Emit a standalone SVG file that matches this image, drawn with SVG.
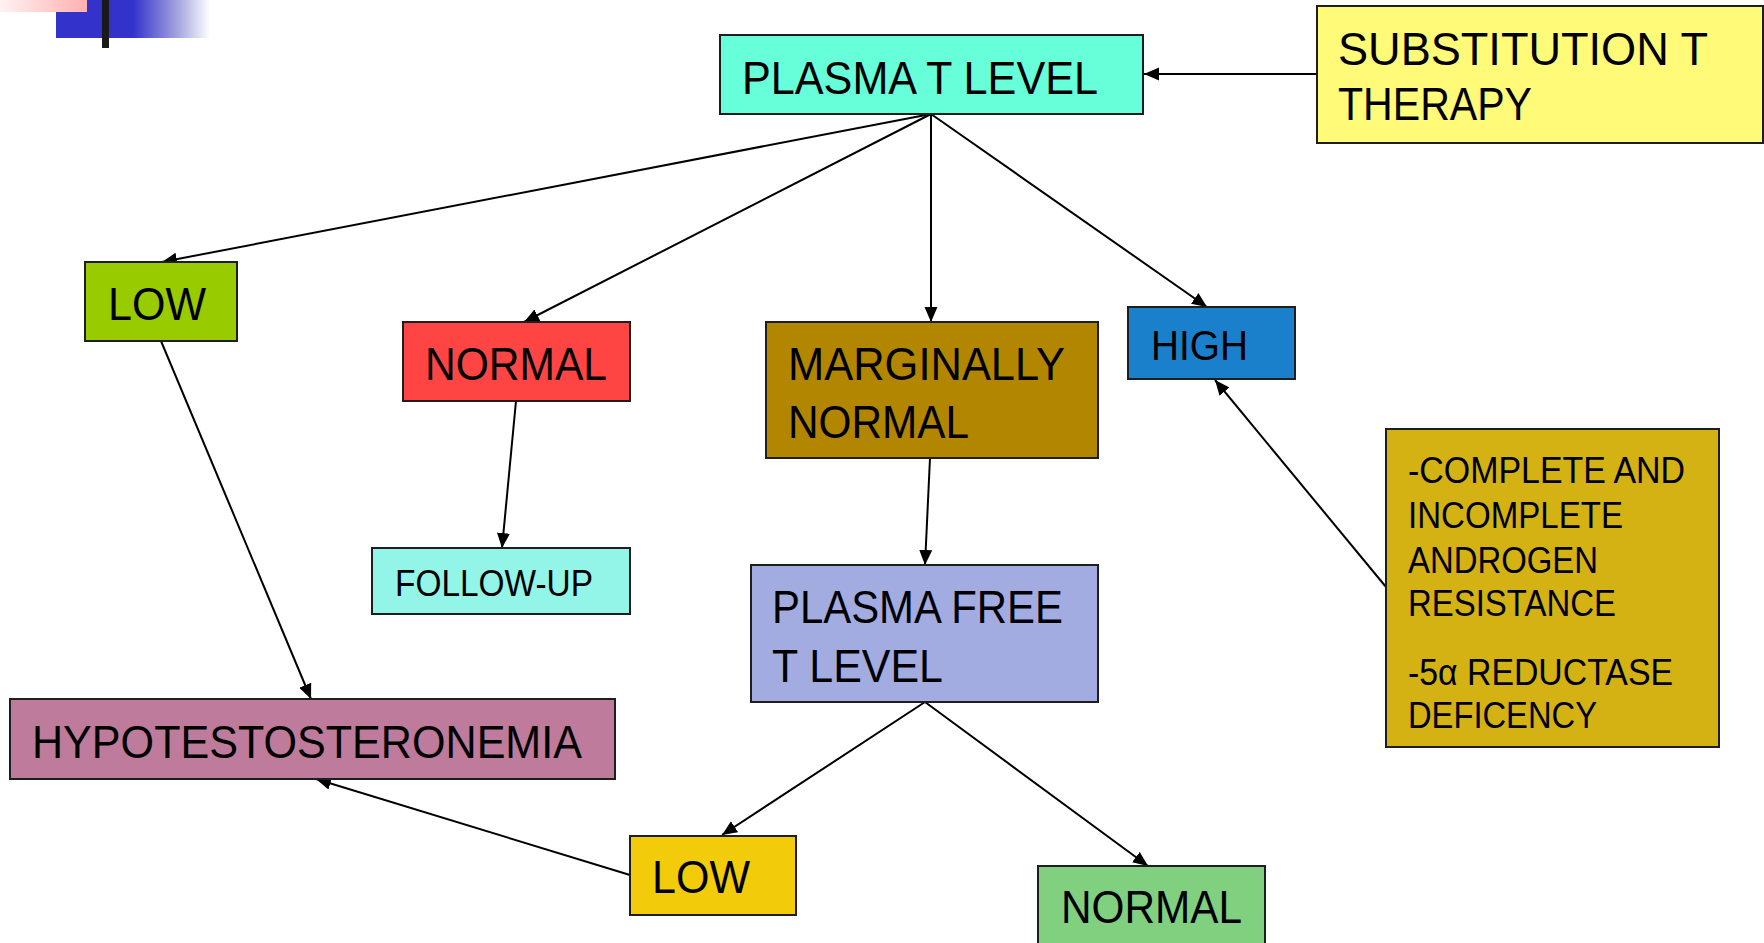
<svg xmlns="http://www.w3.org/2000/svg" width="1764" height="943" viewBox="0 0 1764 943">
  <style>
    .box { stroke: #1e1e1e; stroke-width: 2; }
    .lbl { font-family: "Liberation Sans", Arial, sans-serif; font-size: 47px; fill: #000; }
    .sm { font-size: 37px; }
    .hi { font-size: 42px; }
    .edge { stroke: #000; stroke-width: 2; fill: none; marker-end: url(#arrow); }
  </style>
  <defs>
    <marker id="arrow" markerUnits="userSpaceOnUse" markerWidth="16" markerHeight="14" refX="15" refY="6.5" orient="auto">
      <path d="M0,0 L15,6.5 L0,13 z" fill="#000"/>
    </marker>
    <linearGradient id="pinkBand" x1="0" y1="0" x2="1" y2="0">
      <stop offset="0" stop-color="#fff2f2"/>
      <stop offset="1" stop-color="#ffb0b0"/>
    </linearGradient>
    <linearGradient id="blueBand" x1="0" y1="0" x2="1" y2="0">
      <stop offset="0" stop-color="#3333cc"/>
      <stop offset="0.5" stop-color="#3333cc"/>
      <stop offset="0.8" stop-color="#a8a8e0"/>
      <stop offset="1" stop-color="#ffffff"/>
    </linearGradient>
  </defs>

  <rect width="1764" height="943" fill="#fff"/>

  <!-- corner ornament -->
  <g id="ornament">
    <rect x="56" y="0" width="154" height="38" fill="url(#blueBand)"/>
    <rect x="0" y="0" width="87" height="12" fill="url(#pinkBand)"/>
    <rect x="102" y="0" width="7" height="48" fill="#1a1a1a"/>
  </g>

  <!-- connectors -->
  <g id="connectors">
    <line class="edge" x1="1317" y1="74" x2="1144" y2="74"/>
    <line class="edge" x1="931" y1="114" x2="162" y2="262"/>
    <line class="edge" x1="931" y1="114" x2="524" y2="322"/>
    <line class="edge" x1="931" y1="114" x2="931" y2="322"/>
    <line class="edge" x1="931" y1="114" x2="1207" y2="307"/>
    <line class="edge" x1="161" y1="341" x2="311" y2="699"/>
    <line class="edge" x1="516" y1="401" x2="502" y2="548"/>
    <line class="edge" x1="930" y1="458" x2="925" y2="565"/>
    <line class="edge" x1="1386" y1="587" x2="1215" y2="380"/>
    <line class="edge" x1="925" y1="702" x2="722" y2="835"/>
    <line class="edge" x1="925" y1="702" x2="1148" y2="866"/>
    <line class="edge" x1="630" y1="875" x2="316" y2="779"/>
  </g>

  <g id="plasma-t-level">
    <rect class="box" x="720" y="35" width="423" height="79" fill="#66ffd9"/>
    <text class="lbl" x="742" y="94" textLength="356" lengthAdjust="spacingAndGlyphs">PLASMA T LEVEL</text>
  </g>

  <g id="substitution-therapy">
    <rect class="box" x="1317" y="6" width="446" height="137" fill="#fffa78"/>
    <text class="lbl" x="1338" y="65" textLength="370" lengthAdjust="spacingAndGlyphs">SUBSTITUTION T</text>
    <text class="lbl" x="1338" y="120" textLength="194" lengthAdjust="spacingAndGlyphs">THERAPY</text>
  </g>

  <g id="low-t">
    <rect class="box" x="85" y="262" width="152" height="79" fill="#99cc00"/>
    <text class="lbl" x="108" y="320" textLength="98" lengthAdjust="spacingAndGlyphs">LOW</text>
  </g>

  <g id="normal-t">
    <rect class="box" x="403" y="322" width="227" height="79" fill="#ff4444"/>
    <text class="lbl" x="425" y="380" textLength="182" lengthAdjust="spacingAndGlyphs">NORMAL</text>
  </g>

  <g id="marginally-normal">
    <rect class="box" x="766" y="322" width="332" height="136" fill="#b38600"/>
    <text class="lbl" x="788" y="380" textLength="277" lengthAdjust="spacingAndGlyphs">MARGINALLY</text>
    <text class="lbl" x="788" y="438" textLength="181" lengthAdjust="spacingAndGlyphs">NORMAL</text>
  </g>

  <g id="high-t">
    <rect class="box" x="1128" y="307" width="167" height="72" fill="#1a80cc"/>
    <text class="lbl hi" x="1151" y="360" textLength="97" lengthAdjust="spacingAndGlyphs">HIGH</text>
  </g>

  <g id="follow-up">
    <rect class="box" x="372" y="548" width="258" height="66" fill="#93f5e8"/>
    <text class="lbl sm" x="395" y="596" textLength="198" lengthAdjust="spacingAndGlyphs">FOLLOW-UP</text>
  </g>

  <g id="plasma-free-t-level">
    <rect class="box" x="751" y="565" width="347" height="137" fill="#a3ace0"/>
    <text class="lbl" x="772" y="623" textLength="291" lengthAdjust="spacingAndGlyphs">PLASMA FREE</text>
    <text class="lbl" x="772" y="682" textLength="171" lengthAdjust="spacingAndGlyphs">T LEVEL</text>
  </g>

  <g id="androgen-causes">
    <rect class="box" x="1386" y="429" width="333" height="318" fill="#d4b214"/>
    <text class="lbl sm" x="1408" y="483" textLength="277" lengthAdjust="spacingAndGlyphs">-COMPLETE AND</text>
    <text class="lbl sm" x="1408" y="528" textLength="215" lengthAdjust="spacingAndGlyphs">INCOMPLETE</text>
    <text class="lbl sm" x="1408" y="573" textLength="190" lengthAdjust="spacingAndGlyphs">ANDROGEN</text>
    <text class="lbl sm" x="1408" y="616" textLength="208" lengthAdjust="spacingAndGlyphs">RESISTANCE</text>
    <text class="lbl sm" x="1408" y="685" textLength="265" lengthAdjust="spacingAndGlyphs">-5α REDUCTASE</text>
    <text class="lbl sm" x="1408" y="728" textLength="189" lengthAdjust="spacingAndGlyphs">DEFICENCY</text>
  </g>

  <g id="hypotestosteronemia">
    <rect class="box" x="10" y="699" width="605" height="80" fill="#be7b9b"/>
    <text class="lbl" x="32" y="758" textLength="550" lengthAdjust="spacingAndGlyphs">HYPOTESTOSTERONEMIA</text>
  </g>

  <g id="low-free-t">
    <rect class="box" x="630" y="836" width="166" height="79" fill="#f2cc0a"/>
    <text class="lbl" x="652" y="893" textLength="98" lengthAdjust="spacingAndGlyphs">LOW</text>
  </g>

  <g id="normal-free-t">
    <rect class="box" x="1038" y="866" width="227" height="90" fill="#80d080"/>
    <text class="lbl" x="1061" y="923" textLength="181" lengthAdjust="spacingAndGlyphs">NORMAL</text>
  </g>
</svg>
